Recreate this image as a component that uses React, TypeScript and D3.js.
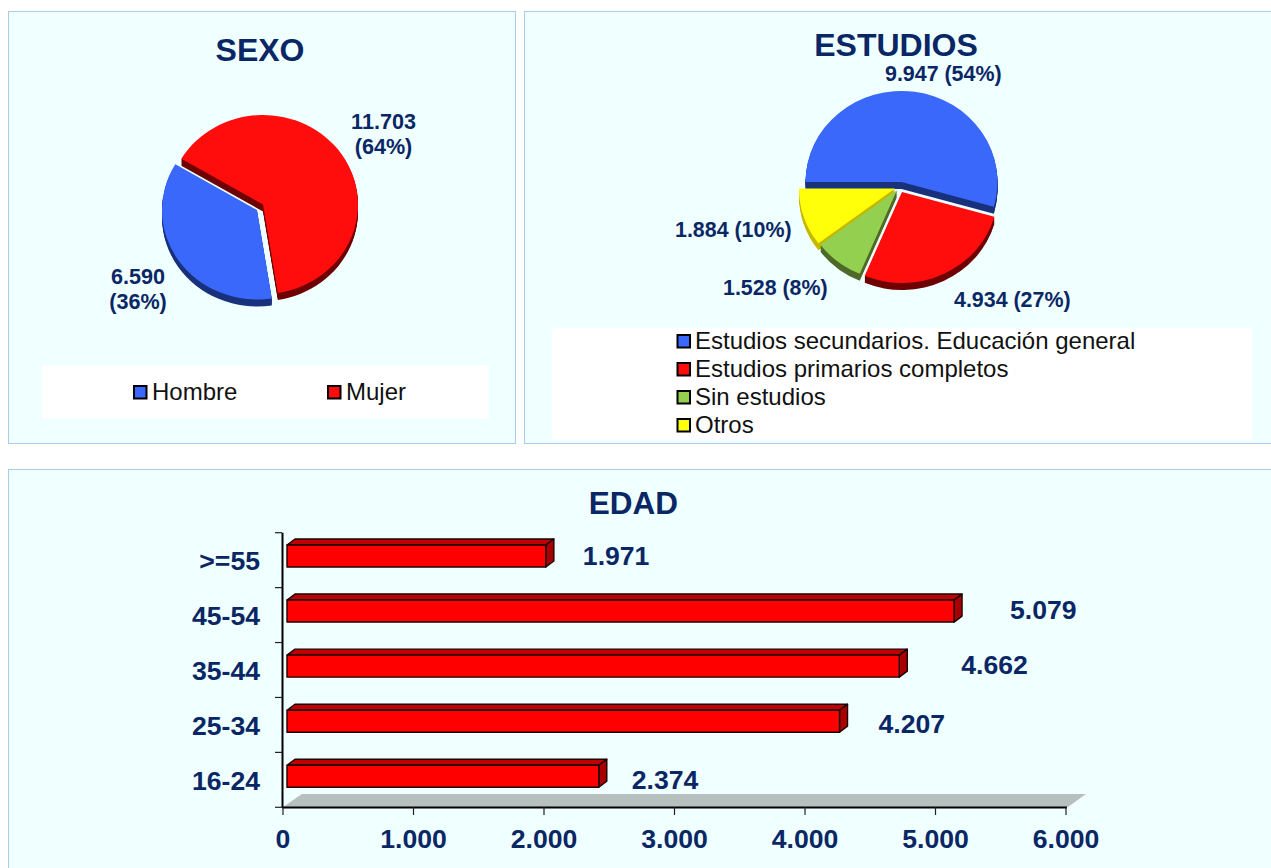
import React from "react";
import * as d3 from "d3";

// ---- data ----
const sexoLabels = ["Hombre", "Mujer"];
const sexoValues = [6590, 11703];
const sexoText = [["6.590", "(36%)"], ["11.703", "(64%)"]];

const estudiosLabels = [
  "Estudios secundarios. Educación general",
  "Estudios primarios completos",
  "Sin estudios",
  "Otros",
];
const estudiosValues = [9947, 4934, 1528, 1884];
const estudiosText = ["9.947 (54%)", "4.934 (27%)", "1.528 (8%)", "1.884 (10%)"];

const edadLabels = [">=55", "45-54", "35-44", "25-34", "16-24"];
const edadValues = [1971, 5079, 4662, 4207, 2374];
const edadText = ["1.971", "5.079", "4.662", "4.207", "2.374"];
const xTickValues = [0, 1000, 2000, 3000, 4000, 5000, 6000];
const xTickText = ["0", "1.000", "2.000", "3.000", "4.000", "5.000", "6.000"];

// ---- styling ----
const FONT = "'Liberation Sans', Arial, sans-serif";
const NAVY = "#0a2765";
const BG = "#f0ffff";
const BORDER = "#a9cde8";
const BLUE = "#3a68fb";
const BLUE_D = "#1a327c";
const RED = "#ff0d0d";
const RED_D = "#6e0000";
const GREEN = "#94d050";
const GREEN_D = "#4f6a28";
const YELLOW = "#ffff0a";
const YELLOW_D = "#c4b800";

type PieProps = {
  values: number[];
  start: number;
  rx: number;
  ry: number;
  depth: number;
  centers: [number, number][];
  fills: string[];
  darks: string[];
  order: number[];
};

function Pie3D({ values, start, rx, ry, depth, centers, fills, darks, order }: PieProps) {
  const rad = (start * Math.PI) / 180;
  const arcs = d3.pie<number>().sort(null).startAngle(rad).endAngle(rad + 2 * Math.PI)(values);
  const arc = d3.arc<d3.PieArcDatum<number>>().innerRadius(0).outerRadius(rx);
  const k = ry / rx;
  return (
    <g>
      {order.map((i) => (
        <g key={i}>
          {d3.range(depth, 0, -1).map((d) => (
            <path
              key={d}
              d={arc(arcs[i]) as string}
              fill={darks[i]}
              transform={`translate(${centers[i][0]},${centers[i][1] + d}) scale(1,${k})`}
            />
          ))}
          <path
            d={arc(arcs[i]) as string}
            fill={fills[i]}
            transform={`translate(${centers[i][0]},${centers[i][1]}) scale(1,${k})`}
          />
        </g>
      ))}
    </g>
  );
}

function Swatch({ x, y, fill }: { x: number; y: number; fill: string }) {
  return <rect x={x} y={y} width={12.5} height={12.5} fill={fill} stroke="#000" strokeWidth={2} />;
}

const T = (props: any) => (
  <text fontFamily={FONT} fill={NAVY} fontWeight="bold" {...props} />
);

export default function App() {
  // bar chart scales
  const xAxis = d3.scaleLinear().domain([0, 6000]).range([283, 1066]);
  const xBar = d3.scaleLinear().domain([0, 6000]).range([287, 1075]);
  const yBand = d3.scaleBand<string>().domain(edadLabels).range([532.7, 807.3]);
  const yTicks = d3.range(0, edadLabels.length + 1).map((i) => 532.7 + i * yBand.step());
  const barH = 22;
  const dx3 = 8;
  const dy3 = 6;
  const labelGap = [37, 56, 62, 39, 33];
  const labelBase = [565, 619, 674, 733, 789];

  return (
    <svg
      width={1271}
      height={868}
      viewBox="0 0 1271 868"
      style={{ position: "absolute", left: 0, top: 0, display: "block", background: "#fff" }}
    >
      {/* panels */}
      <rect x={8.5} y={11.5} width={507} height={432} fill={BG} stroke={BORDER} />
      <rect x={524.5} y={11.5} width={760} height={432} fill={BG} stroke={BORDER} />
      <rect x={8.5} y={469.5} width={1276} height={420} fill={BG} stroke={BORDER} />

      {/* SEXO */}
      <T x={260} y={61} fontSize={32} textAnchor="middle">SEXO</T>
      <Pie3D
        values={sexoValues}
        start={171}
        rx={95}
        ry={89.5}
        depth={7}
        centers={[[257, 210], [263, 204.5]]}
        fills={[BLUE, RED]}
        darks={[BLUE_D, RED_D]}
        order={[0, 1]}
      />
      {sexoText[1].map((s, i) => (
        <T key={s} x={383.5} y={129 + i * 25} fontSize={21.6} textAnchor="middle">{s}</T>
      ))}
      {sexoText[0].map((s, i) => (
        <T key={s} x={138} y={284 + i * 25} fontSize={21.6} textAnchor="middle">{s}</T>
      ))}
      <rect x={42} y={365} width={447} height={54} fill="#fff" />
      {sexoLabels.map((s, i) => (
        <g key={s}>
          <Swatch x={134 + i * 194} y={386} fill={[BLUE, RED][i]} />
          <text x={152 + i * 194} y={400} fontFamily={FONT} fontSize={24} fill="#111">{s}</text>
        </g>
      ))}

      {/* ESTUDIOS */}
      <T x={896} y={56} fontSize={32} textAnchor="middle">ESTUDIOS</T>
      <Pie3D
        values={estudiosValues}
        start={-90}
        rx={96}
        ry={91}
        depth={7}
        centers={[[901.5, 182], [902, 192], [897, 190], [895, 188.5]]}
        fills={[BLUE, RED, GREEN, YELLOW]}
        darks={[BLUE_D, RED_D, GREEN_D, YELLOW_D]}
        order={[0, 3, 2, 1]}
      />
      <T x={885} y={81} fontSize={21.4}>{estudiosText[0]}</T>
      <T x={954} y={307} fontSize={21.4}>{estudiosText[1]}</T>
      <T x={723} y={295} fontSize={21.4}>{estudiosText[2]}</T>
      <T x={675} y={237} fontSize={21.4}>{estudiosText[3]}</T>
      <rect x={552} y={328} width={700} height={112} fill="#fff" />
      {estudiosLabels.map((s, i) => (
        <g key={s}>
          <Swatch x={677.5} y={335 + i * 28} fill={[BLUE, RED, GREEN, YELLOW][i]} />
          <text x={695} y={349 + i * 28} fontFamily={FONT} fontSize={24} fill="#111">{s}</text>
        </g>
      ))}

      {/* EDAD */}
      <T x={633.5} y={514} fontSize={31.5} textAnchor="middle">EDAD</T>
      <path
        d={`M${xAxis(0)},807 L${xAxis(0) + 19},794 L${xAxis(6000) + 20},794 L${xAxis(6000) + 2},807 Z`}
        fill="#b8bfbf"
      />
      {edadLabels.map((s, i) => {
        const y = (yBand(s) as number) + 12.3 + i * 0.15;
        const x0 = xBar(0);
        const x1 = xBar(edadValues[i]);
        return (
          <g key={s} stroke="#1a0000" strokeWidth={1.4} strokeLinejoin="round">
            <path
              d={`M${x0},${y} L${x0 + dx3},${y - dy3} L${x1 + dx3},${y - dy3} L${x1},${y} Z`}
              fill="#c00000"
            />
            <path
              d={`M${x1},${y} L${x1 + dx3},${y - dy3} L${x1 + dx3},${y + barH - dy3} L${x1},${y + barH} Z`}
              fill="#a80000"
            />
            <rect x={x0} y={y} width={x1 - x0} height={barH} fill="#ff0000" />
          </g>
        );
      })}
      {edadLabels.map((s, i) => (
        <T key={s} x={xBar(edadValues[i]) + labelGap[i]} y={labelBase[i]} fontSize={26.6}>
          {edadText[i]}
        </T>
      ))}
      {/* axes */}
      <line x1={282.5} x2={282.5} y1={532.7} y2={808} stroke="#000" strokeWidth={2} />
      <line x1={282} x2={1067} y1={807.5} y2={807.5} stroke="#000" strokeWidth={2} />
      {yTicks.map((y) => (
        <line key={y} x1={275} x2={282} y1={y} y2={y} stroke="#222" strokeWidth={1.2} />
      ))}
      {xTickValues.map((v, i) => (
        <g key={v}>
          <line x1={xAxis(v)} x2={xAxis(v)} y1={807} y2={815} stroke="#222" strokeWidth={1.2} />
          <T x={xAxis(v)} y={848} fontSize={26.6} textAnchor="middle">{xTickText[i]}</T>
        </g>
      ))}
      {edadLabels.map((s) => (
        <T key={s} x={260} y={(yBand(s) as number) + 37.5} fontSize={26.6} textAnchor="end">{s}</T>
      ))}
    </svg>
  );
}
